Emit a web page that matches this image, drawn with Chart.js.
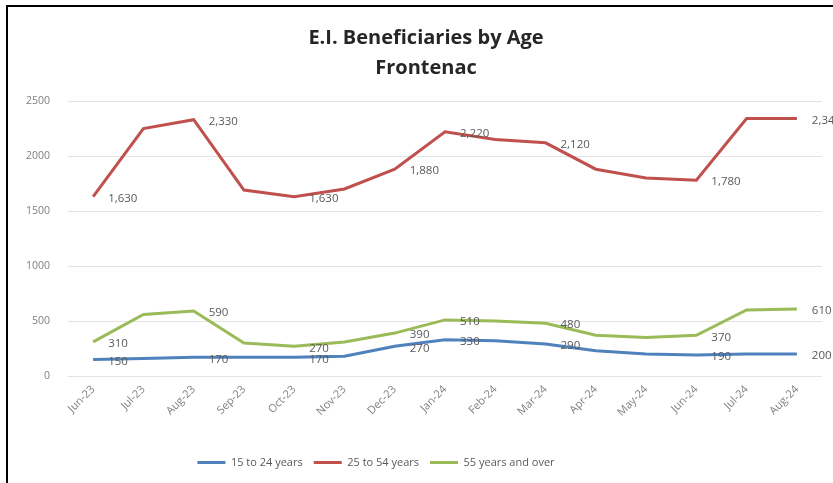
<!DOCTYPE html>
<html>
<head>
<meta charset="utf-8">
<title>E.I. Beneficiaries by Age - Frontenac</title>
<script src="https://cdn.jsdelivr.net/npm/chart.js@4.4.1/dist/chart.umd.min.js"></script>
<style>
    html, body { margin: 0; padding: 0; background: #fff; }
    #frame {
        position: absolute; left: 6px; top: 5px;
        width: 827px; height: 478px;
        border-top: 2px solid #000; border-left: 2px solid #000;
    }
    #frame canvas { display: block; }
</style>
</head>
<body>
<div id="frame"><canvas id="ei-chart" width="825" height="476"></canvas></div>
<script>
/* E.I. beneficiaries by age group, Frontenac */

var months = ['Jun-23', 'Jul-23', 'Aug-23', 'Sep-23', 'Oct-23', 'Nov-23', 'Dec-23',
              'Jan-24', 'Feb-24', 'Mar-24', 'Apr-24', 'May-24', 'Jun-24', 'Jul-24', 'Aug-24'];

var youth   = [150, 160, 170, 170, 170, 180, 270, 330, 320, 290, 230, 200, 190, 200, 200];
var core    = [1630, 2250, 2330, 1690, 1630, 1700, 1880, 2220, 2150, 2120, 1880, 1800, 1780, 2340, 2340];
var older   = [310, 560, 590, 300, 270, 310, 390, 510, 500, 480, 370, 350, 370, 600, 610];

var yTicks  = [0, 500, 1000, 1500, 2000, 2500];

// months that carry a value label
var labelledMonths = [0, 2, 4, 6, 7, 9, 12, 14];

(function () {
    'use strict';

    var FONT = "'Open Sans', 'DejaVu Sans', sans-serif";

    // ── Value labels to the right of selected points ─────────────────────────
    var valueLabels = {
        id: 'valueLabels',
        afterDatasetsDraw: function (chart) {
            var ctx = chart.ctx;
            ctx.save();
            ctx.font = '11.5px ' + FONT;
            ctx.fillStyle = '#595959';
            ctx.textAlign = 'left';
            ctx.textBaseline = 'middle';
            chart.data.datasets.forEach(function (ds, di) {
                var meta = chart.getDatasetMeta(di);
                labelledMonths.forEach(function (i) {
                    var pt = meta.data[i];
                    if (!pt) return;
                    ctx.fillText(ds.data[i].toLocaleString('en-US'), pt.x + 15, pt.y + 2);
                });
            });
            ctx.restore();
        }
    };

    // ── Nudge title right and legend left of the canvas centre ───────────────
    var boxShift = {
        id: 'boxShift',
        afterLayout: function (chart) {
            if (chart.titleBlock) {
                chart.titleBlock.left += 11;
                chart.titleBlock.right += 11;
            }
            if (chart.legend) {
                chart.legend.left -= 39;
                chart.legend.right -= 39;
            }
        }
    };

    function series(label, data, color) {
        return {
            label: label,
            data: data,
            borderColor: color,
            backgroundColor: color,
            borderWidth: 3,
            pointRadius: 0,
            pointHoverRadius: 0,
            tension: 0,
            fill: false
        };
    }

    new Chart(document.getElementById('ei-chart').getContext('2d'), {
        type: 'line',
        data: {
            labels: months,
            datasets: [
                series('15 to 24 years', youth, '#4F81BD'),
                series('25 to 54 years', core, '#C0504D'),
                series('55 years and over', older, '#9BBB59')
            ]
        },
        plugins: [valueLabels, boxShift],
        options: {
            responsive: false,
            animation: false,
            layout: { padding: { left: 0, right: 11, top: 0, bottom: 5 } },
            plugins: {
                title: {
                    display: true,
                    text: ['E.I. Beneficiaries by Age', 'Frontenac'],
                    color: '#262626',
                    font: { family: FONT, size: 20, weight: 'bold', lineHeight: 1.5 },
                    padding: { top: 16, bottom: 18 }
                },
                legend: {
                    position: 'bottom',
                    labels: {
                        usePointStyle: true,
                        pointStyle: 'line',
                        pointStyleWidth: 28,
                        boxHeight: 3,
                        padding: 11,
                        color: '#595959',
                        font: { family: FONT, size: 11 }
                    }
                },
                tooltip: { enabled: false }
            },
            scales: {
                x: {
                    offset: true,
                    grid: { display: false, drawTicks: false },
                    border: { display: false },
                    ticks: {
                        minRotation: 45,
                        maxRotation: 45,
                        autoSkip: false,
                        padding: 7,
                        color: '#7f7f7f',
                        font: { family: FONT, size: 11 }
                    },
                    afterFit: function (scale) { scale.height = 70; }
                },
                y: {
                    min: 0,
                    max: 2500,
                    afterBuildTicks: function (scale) {
                        scale.ticks = yTicks.map(function (v) { return { value: v }; });
                    },
                    grid: { color: '#e3e3e3', lineWidth: 1, drawTicks: false },
                    border: { display: false },
                    ticks: {
                        padding: 18,
                        color: '#7f7f7f',
                        font: { family: FONT, size: 10.5 },
                        callback: function (v) { return String(v); }
                    },
                    afterFit: function (scale) { scale.width = 60; }
                }
            }
        }
    });
}());
</script>
</body>
</html>
